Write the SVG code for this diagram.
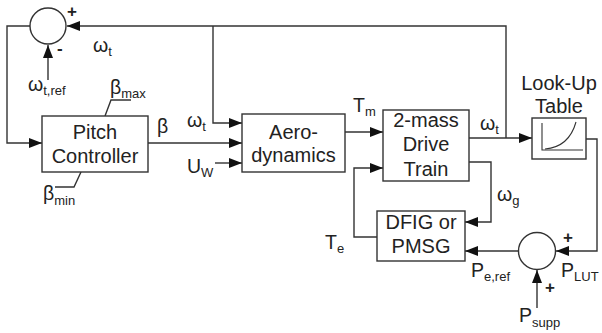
<svg xmlns="http://www.w3.org/2000/svg" width="602" height="333" viewBox="0 0 602 333">
<defs>
<style>
.blk{fill:#fff;stroke:#333;stroke-width:1.4}
.ln{fill:none;stroke:#333;stroke-width:1.4}
text{font-family:"Liberation Sans",Arial,sans-serif;font-size:19.5px;fill:#222}
.c{text-anchor:middle;font-size:20px}
.s{font-size:13px}
.sg{font-size:17px;font-weight:bold}
</style>
<marker id="ah" markerUnits="userSpaceOnUse" markerWidth="14" markerHeight="11" refX="13" refY="5" orient="auto">
<path d="M0,0 L13,5 L0,10 z" fill="#111"/>
</marker>
</defs>
<g id="connectors">
<polyline class="ln" points="506,138 506,26 67,26" marker-end="url(#ah)"/>
<polyline class="ln" points="30,26 7,26 7,143 42,143" marker-end="url(#ah)"/>
<line class="ln" x1="48" y1="80" x2="48" y2="45" marker-end="url(#ah)"/>
<polyline class="ln" points="105,116 111,100 131,100"/>
<polyline class="ln" points="81,172 74,187 55,187"/>
<line class="ln" x1="148" y1="143" x2="242" y2="143" marker-end="url(#ah)"/>
<polyline class="ln" points="213,26 213,123 242,123" marker-end="url(#ah)"/>
<line class="ln" x1="215" y1="163" x2="242" y2="163" marker-end="url(#ah)"/>
<line class="ln" x1="345" y1="132" x2="383" y2="132" marker-end="url(#ah)"/>
<line class="ln" x1="469" y1="138" x2="532" y2="138" marker-end="url(#ah)"/>
<polyline class="ln" points="586,139 597,139 597,251 556,251" marker-end="url(#ah)"/>
<polyline class="ln" points="469,162 491,162 491,222 465,222" marker-end="url(#ah)"/>
<polyline class="ln" points="377,237 354,237 354,168 383,168" marker-end="url(#ah)"/>
<line class="ln" x1="518" y1="251" x2="465" y2="251" marker-end="url(#ah)"/>
<line class="ln" x1="537" y1="308" x2="537" y2="270" marker-end="url(#ah)"/>
</g>
<g id="sum1">
<circle class="blk" cx="48" cy="26" r="18"/>
<text class="sg" x="67" y="17">+</text>
<text class="sg" x="57" y="54">-</text>
</g>
<g id="pitch-controller">
<rect class="blk" x="42" y="116" width="106" height="56"/>
<text class="c" x="95" y="138.5">Pitch</text>
<text class="c" x="95" y="163">Controller</text>
</g>
<g id="aerodynamics">
<rect class="blk" x="242" y="114" width="103" height="58"/>
<text class="c" x="293.5" y="138.5">Aero-</text>
<text class="c" x="293.5" y="162">dynamics</text>
</g>
<g id="drive-train">
<rect class="blk" x="383" y="110" width="86" height="71"/>
<text class="c" x="426" y="127">2-mass</text>
<text class="c" x="426" y="151">Drive</text>
<text class="c" x="426" y="176">Train</text>
</g>
<g id="lookup-table">
<rect class="blk" x="532" y="118" width="54" height="41"/>
<polyline class="ln" points="542,123 542,150 583,150" style="stroke-width:1.1"/>
<path class="ln" d="M545,149 Q569,147 576,122" style="stroke-width:1.1"/>
<text class="c" x="559" y="90">Look-Up</text>
<text class="c" x="559" y="113">Table</text>
</g>
<g id="generator">
<rect class="blk" x="377" y="211" width="88" height="50"/>
<text class="c" x="421" y="228.5">DFIG or</text>
<text class="c" x="421" y="253">PMSG</text>
</g>
<g id="sum2">
<circle class="blk" cx="537" cy="251" r="18.5"/>
<text class="sg" x="563" y="243">+</text>
<text class="sg" x="545" y="293">+</text>
</g>
<g id="labels">
<text x="93" y="52">ω<tspan class="s" dy="4">t</tspan></text>
<text x="28" y="91">ω<tspan class="s" dy="4">t,ref</tspan></text>
<text x="110" y="94">β<tspan class="s" dy="4">max</tspan></text>
<text x="43" y="200">β<tspan class="s" dy="5">min</tspan></text>
<text x="157" y="133">β</text>
<text x="187" y="127">ω<tspan class="s" dy="4">t</tspan></text>
<text x="187" y="173">U<tspan class="s" dy="4">W</tspan></text>
<text x="353" y="112">T<tspan class="s" dy="4">m</tspan></text>
<text x="480" y="130">ω<tspan class="s" dy="4">t</tspan></text>
<text x="497" y="201">ω<tspan class="s" dy="4">g</tspan></text>
<text x="325" y="249">T<tspan class="s" dy="4">e</tspan></text>
<text x="471" y="277">P<tspan class="s" dy="4">e,ref</tspan></text>
<text x="561" y="277">P<tspan class="s" dy="4">LUT</tspan></text>
<text x="519" y="322">P<tspan class="s" dy="5">supp</tspan></text>
</g>
</svg>
